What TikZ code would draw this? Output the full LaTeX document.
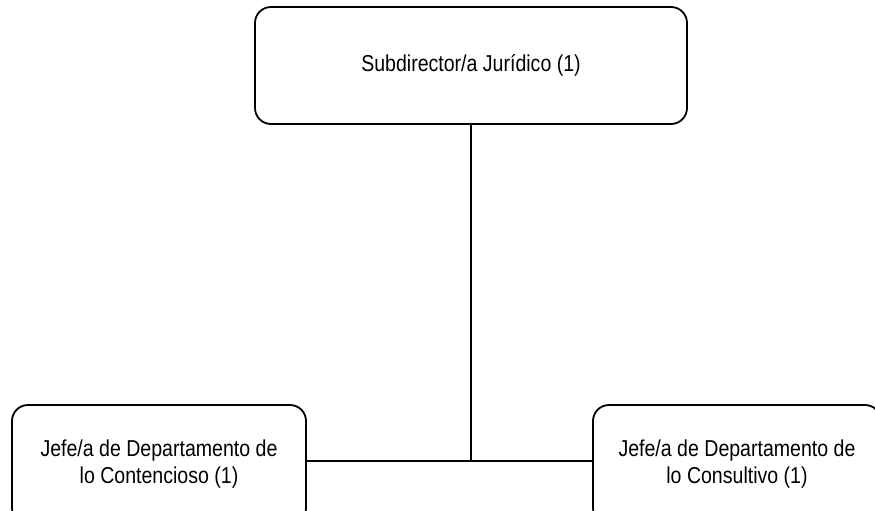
\documentclass[tikz,border=0pt]{standalone}
\usepackage{fontspec}
\setmainfont{Liberation Sans}[FakeStretch=0.85]
\begin{document}
\begin{tikzpicture}[x=1pt,y=-1pt,
  orgbox/.style={draw=black, line width=1.8pt, rounded corners=16pt, fill=white,
    align=center, inner sep=0pt,
    font=\fontsize{23}{27}\selectfont},
  link/.style={draw=black, line width=1.8pt}]
  \useasboundingbox (0,0) rectangle (875,511);
  % head of unit
  \node[orgbox, minimum width=432pt, minimum height=117pt] (head) at (471,65.5)
    {Subdirector/a Jurídico (1)};
  % departments
  \node[orgbox, minimum width=294pt, minimum height=119pt] (cont) at (159,464.5)
    {Jefe/a de Departamento de\\lo Contencioso (1)};
  \node[orgbox, minimum width=288pt, minimum height=119pt] (cons) at (737,464.5)
    {Jefe/a de Departamento de\\lo Consultivo (1)};
  % connectors
  \coordinate (split) at (head.south |- 0,461);
  \draw[link] (head.south) -- (split);
  \draw[link] (cont.east |- split) -- (cons.west |- split);
\end{tikzpicture}
\end{document}
